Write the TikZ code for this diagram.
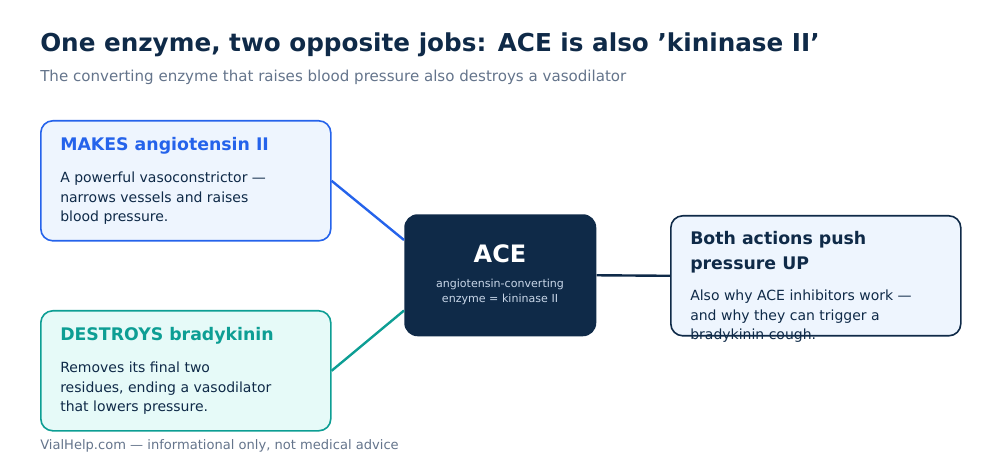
\documentclass[tikz,border=0pt]{standalone}
\usepackage{fontspec}
\setmainfont{DejaVu Sans}
\usetikzlibrary{calc}
\definecolor{navy}{HTML}{0F2A48}
\definecolor{blueline}{HTML}{2563EB}
\definecolor{tealline}{HTML}{0D9E94}
\definecolor{bluefill}{HTML}{EEF5FE}
\definecolor{tealfill}{HTML}{E6FAF8}
\definecolor{greytext}{HTML}{64748B}
\definecolor{palebody}{HTML}{C8D6E8}
\begin{document}
\begin{tikzpicture}[x=0.75pt,y=-0.75pt,
  card/.style={draw, line width=1.2pt, rounded corners=9pt, minimum width=217.5pt, minimum height=90pt, anchor=north west},
  head/.style={anchor=north west, inner sep=0pt, font=\fontsize{13}{16}\selectfont\bfseries, align=left},
  body/.style={anchor=north west, inner sep=0pt, text=navy, font=\fontsize{10.5}{14.6}\selectfont, align=left},
  link/.style={line width=1.8pt}]
  \useasboundingbox (0,0) rectangle (1000,470);
  % title
  \node[anchor=base west, inner sep=0pt, text=navy, font=\fontsize{18.5}{22}\selectfont\bfseries] (title) at (40,52) {One enzyme, two opposite jobs: ACE is also 'kininase II'};
  \node[anchor=base west, inner sep=0pt, text=greytext, font=\fontsize{11.3}{14}\selectfont] (sub) at (40,82) {The converting enzyme that raises blood pressure also destroys a vasodilator};
  % cards
  \node[card, draw=blueline, fill=bluefill] (make) at (40,120) {};
  \node[card, draw=tealline, fill=tealfill] (kill) at (40,310) {};
  \node[card, draw=navy, fill=bluefill] (push) at (670,215) {};
  \node[draw=none, fill=navy, rounded corners=10pt, minimum width=144pt, minimum height=91.5pt, anchor=north west] (ace) at (404,214) {};
  % card texts
  \node[head, text=blueline] (makeh) at (60,137) {MAKES angiotensin II};
  \node[body] (makeb) at (60,172) {A powerful vasoconstrictor —\\narrows vessels and raises\\blood pressure.};
  \node[head, text=tealline] (killh) at (60,327) {DESTROYS bradykinin};
  \node[body] (killb) at (60,362) {Removes its final two\\residues, ending a vasodilator\\that lowers pressure.};
  \node[head, text=navy, font=\fontsize{13}{19}\selectfont\bfseries] (pushh) at (690,231) {Both actions push\\pressure UP};
  \node[body] (pushb) at (690,290) {Also why ACE inhibitors work —\\and why they can trigger a\\bradykinin cough.};
  \node[text=white, font=\fontsize{18}{22}\selectfont\bfseries, inner sep=0pt] (acet) at (500,254) {ACE};
  \node[text=palebody, font=\fontsize{8.3}{11.5}\selectfont, align=center, inner sep=0pt] (aceb) at (500,292) {angiotensin-converting\\enzyme = kininase II};
  % connectors
  \draw[link, blueline] (make.east) -- ($(ace.north west)+(0,26)$);
  \draw[link, tealline] (kill.east) -- ($(ace.south west)+(0,-26)$);
  \draw[link, navy] (ace.east) -- (push.west);
  % footer
  \node[anchor=base west, inner sep=0pt, text=greytext, font=\fontsize{9.8}{12}\selectfont] (foot) at (40,450) {VialHelp.com — informational only, not medical advice};
\end{tikzpicture}
\end{document}
